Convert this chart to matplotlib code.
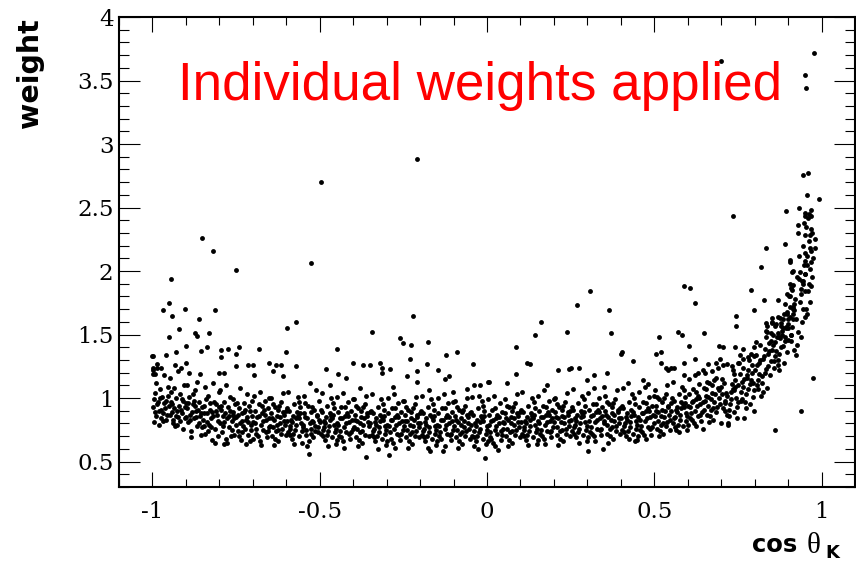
import numpy as np
import matplotlib
matplotlib.use('Agg')
import matplotlib.pyplot as plt
from matplotlib.ticker import MultipleLocator, FuncFormatter

# (cos theta_K, weight), slice by slice along cos theta_K
band_left = [
    # -1.00 .. -0.95
    (-.997,.93),(-.992,1.04),(-.988,.86),(-.996,.81),(-.983,.97),(-.979,.90),(-.990,1.12),(-.975,.84),(-.971,1.01),(-.985,.95),
    (-.968,.88),(-.994,.99),(-.962,.92),(-.976,1.07),(-.959,.83),(-.981,.79),(-.966,.96),(-.954,1.02),(-.973,.91),(-.957,.87),
    (-.999,1.22),(-.986,1.27),(-.964,1.18),(-.952,.94),(-.978,1.00),(-.969,.82),(-.991,.89),(-.955,1.09),(-.998,1.33),(-.961,.98),
    # -0.95 .. -0.90
    (-.949,.87),(-.946,.97),(-.940,.80),(-.944,1.05),(-.937,.92),(-.933,.78),(-.929,1.00),(-.942,.89),(-.925,.85),(-.921,.94),
    (-.935,1.08),(-.917,.82),(-.913,.99),(-.927,.90),(-.909,.76),(-.904,.93),(-.931,.86),(-.919,1.03),(-.911,.88),(-.901,.96),
    (-.947,1.16),(-.938,.83),(-.923,1.21),(-.915,.91),(-.906,1.10),(-.943,.95),(-.928,.79),(-.902,.84),(-.934,1.26),(-.908,.98),
    # -0.90 .. -0.85
    (-.898,.92),(-.895,.81),(-.891,1.01),(-.887,.87),(-.884,.74),(-.880,.95),(-.877,.84),(-.873,1.06),(-.869,.90),(-.866,.78),
    (-.862,.97),(-.858,.86),(-.855,.71),(-.852,.93),(-.896,1.10),(-.889,.83),(-.882,.89),(-.875,.98),(-.868,1.13),(-.861,.80),
    (-.854,.88),(-.893,.96),(-.885,.69),(-.878,1.03),(-.871,.85),(-.864,.91),(-.857,1.19),(-.851,.77),(-.899,.85),(-.872,.94),
    # -0.85 .. -0.80
    (-.849,.83),(-.845,.94),(-.842,.72),(-.838,.88),(-.834,1.02),(-.831,.79),(-.827,.91),(-.823,.67),(-.820,.86),(-.816,.97),
    (-.812,.76),(-.809,.90),(-.805,.82),(-.802,1.05),(-.847,.88),(-.840,.99),(-.833,.74),(-.826,.84),(-.819,1.12),(-.811,.95),
    (-.804,.70),(-.846,.78),(-.836,.81),(-.829,.96),(-.821,.89),(-.814,.65),(-.807,.87),(-.843,1.09),(-.824,.77),(-.801,.93),
    # -0.80 .. -0.75
    (-.799,.80),(-.796,.91),(-.792,.73),(-.788,.86),(-.785,.97),(-.781,.68),(-.778,.84),(-.774,.93),(-.770,.77),(-.767,1.01),
    (-.763,.82),(-.759,.89),(-.756,.71),(-.752,.95),(-.797,1.06),(-.790,.78),(-.783,.88),(-.776,.65),(-.769,.90),(-.762,.75),
    (-.755,.84),(-.794,.94),(-.786,.81),(-.779,1.10),(-.772,.86),(-.765,.70),(-.758,.99),(-.751,.79),(-.787,.64),(-.760,.87),
    # -0.75 .. -0.70
    (-.749,.85),(-.745,.74),(-.742,.92),(-.738,.80),(-.735,.67),(-.731,.88),(-.727,.96),(-.724,.76),(-.720,.83),(-.716,1.03),
    (-.713,.71),(-.709,.90),(-.706,.79),(-.702,.86),(-.747,.96),(-.740,.70),(-.733,.82),(-.726,.89),(-.719,.64),(-.712,.94),
    (-.705,.75),(-.744,.87),(-.737,1.08),(-.729,.78),(-.722,.91),(-.715,.81),(-.708,.66),(-.701,.98),(-.732,.73),(-.718,.85),
    # -0.70 .. -0.65
    (-.698,.81),(-.694,.90),(-.691,.72),(-.687,.85),(-.683,.95),(-.680,.66),(-.676,.79),(-.672,.88),(-.669,.75),(-.665,.98),
    (-.661,.83),(-.658,.69),(-.654,.92),(-.651,.77),(-.696,1.02),(-.689,.76),(-.682,.86),(-.675,.63),(-.668,.91),(-.660,.73),
    (-.653,.84),(-.693,.80),(-.685,.70),(-.678,1.05),(-.671,.82),(-.663,.87),(-.656,.74),(-.699,.68),(-.674,.94),(-.652,1.00),
    # -0.65 .. -0.60
    (-.649,.78),(-.646,.88),(-.642,.70),(-.638,.83),(-.635,.93),(-.631,.74),(-.627,.86),(-.624,.66),(-.620,.80),(-.616,.97),
    (-.613,.76),(-.609,.89),(-.606,.82),(-.602,.71),(-.647,1.00),(-.640,.77),(-.633,.68),(-.626,.91),(-.619,.85),(-.611,1.04),
    (-.604,.79),(-.644,.84),(-.637,.63),(-.629,.79),(-.622,.94),(-.615,.72),(-.608,.87),(-.641,.95),(-.625,.75),(-.601,.90),
    # -0.60 .. -0.55
    (-.599,.82),(-.595,.73),(-.592,.90),(-.588,.78),(-.584,.68),(-.581,.86),(-.577,.95),(-.574,.75),(-.570,.84),(-.566,1.01),
    (-.563,.70),(-.559,.88),(-.556,.80),(-.552,.65),(-.597,.92),(-.590,.76),(-.583,.81),(-.576,.64),(-.569,.89),(-.561,.97),
    (-.554,.74),(-.594,1.05),(-.586,.83),(-.579,.72),(-.572,.79),(-.565,.86),(-.558,.93),(-.551,.77),(-.589,.71),(-.562,.84),
    # -0.55 .. -0.50
    (-.549,.79),(-.546,.88),(-.542,.71),(-.538,.84),(-.535,.94),(-.531,.56),(-.527,.76),(-.524,.82),(-.520,.69),(-.516,.91),
    (-.513,.78),(-.509,.86),(-.506,.73),(-.502,.98),(-.547,1.02),(-.540,.75),(-.533,.66),(-.526,.89),(-.519,.81),(-.511,1.06),
    (-.504,.77),(-.544,.85),(-.537,.62),(-.529,.80),(-.522,.93),(-.515,.74),(-.508,.87),(-.543,.96),(-.525,.72),(-.501,.83),
]

band_mid = [
    # -0.50 .. -0.45
    (-.499,.81),(-.495,.72),(-.492,.89),(-.488,.77),(-.484,.67),(-.481,.85),(-.477,.94),(-.474,.74),(-.470,.83),(-.466,1.00),
    (-.463,.69),(-.459,.87),(-.456,.79),(-.452,.64),(-.497,.91),(-.490,.75),(-.483,.80),(-.476,.62),(-.469,.88),(-.461,.96),
    (-.454,.73),(-.494,1.04),(-.486,.82),(-.479,.71),(-.472,.78),(-.465,.86),(-.458,.92),(-.451,.76),(-.489,.70),(-.462,.84),
    # -0.45 .. -0.40
    (-.449,.80),(-.445,.89),(-.442,.70),(-.438,.84),(-.435,.93),(-.431,.66),(-.427,.77),(-.424,.86),(-.420,.73),(-.416,.97),
    (-.413,.81),(-.409,.68),(-.406,.90),(-.402,.76),(-.447,1.01),(-.440,.74),(-.433,.84),(-.426,.61),(-.419,.88),(-.412,.72),
    (-.405,.83),(-.444,.79),(-.437,.69),(-.429,1.04),(-.422,.80),(-.415,.86),(-.408,.73),(-.448,.67),(-.425,.93),(-.401,.99),
    # -0.40 .. -0.35
    (-.399,.77),(-.396,.87),(-.392,.69),(-.388,.82),(-.385,.92),(-.381,.73),(-.377,.85),(-.374,.65),(-.370,.79),(-.366,.95),
    (-.363,.54),(-.359,.88),(-.356,.81),(-.352,.70),(-.397,.99),(-.390,.76),(-.383,.67),(-.376,.90),(-.369,.84),(-.361,1.02),
    (-.354,.78),(-.394,.83),(-.387,.62),(-.379,.80),(-.372,.93),(-.365,.71),(-.358,.86),(-.391,.94),(-.375,.74),(-.351,.89),
    # -0.35 .. -0.30
    (-.349,.80),(-.345,.71),(-.342,.88),(-.338,.76),(-.334,.66),(-.331,.84),(-.327,.93),(-.324,.73),(-.320,.82),(-.316,.99),
    (-.313,.68),(-.309,.86),(-.306,.78),(-.302,.63),(-.347,.90),(-.340,.74),(-.333,.79),(-.326,.60),(-.319,.87),(-.311,.95),
    (-.304,.72),(-.344,1.03),(-.336,.81),(-.329,.70),(-.322,.77),(-.315,.85),(-.308,.91),(-.301,.75),(-.339,.69),(-.312,.83),
    # -0.30 .. -0.25
    (-.299,.79),(-.295,.88),(-.292,.55),(-.288,.83),(-.285,.92),(-.281,.65),(-.277,.76),(-.274,.85),(-.270,.72),(-.266,.96),
    (-.263,.80),(-.259,.67),(-.256,.89),(-.252,.75),(-.297,1.00),(-.290,.73),(-.283,.83),(-.276,.61),(-.269,.87),(-.262,.71),
    (-.255,.82),(-.294,.78),(-.287,.68),(-.279,1.03),(-.272,.79),(-.265,.85),(-.258,.72),(-.298,.66),(-.275,.92),(-.251,.98),
    # -0.25 .. -0.20
    (-.249,.78),(-.246,.87),(-.242,.69),(-.238,.82),(-.235,.91),(-.231,.72),(-.227,.84),(-.224,.64),(-.220,.78),(-.216,.95),
    (-.213,.74),(-.209,.87),(-.206,.80),(-.202,.69),(-.247,.98),(-.240,.75),(-.233,.66),(-.226,.89),(-.219,.83),(-.211,1.01),
    (-.204,.77),(-.244,.82),(-.237,.61),(-.229,.79),(-.222,.92),(-.215,.70),(-.208,.85),(-.241,.93),(-.225,.73),(-.201,.88),
    # -0.20 .. -0.15
    (-.199,.80),(-.195,.71),(-.192,.88),(-.188,.76),(-.184,.66),(-.181,.84),(-.177,.93),(-.174,.73),(-.170,.58),(-.166,.99),
    (-.163,.68),(-.159,.86),(-.156,.78),(-.152,.63),(-.197,.90),(-.190,.74),(-.183,.79),(-.176,.61),(-.169,.87),(-.161,.95),
    (-.154,.72),(-.194,1.02),(-.186,.81),(-.179,.70),(-.172,.77),(-.165,.85),(-.158,.91),(-.151,.75),(-.189,.69),(-.162,.83),
    # -0.15 .. -0.10
    (-.149,.79),(-.145,.88),(-.142,.70),(-.138,.83),(-.134,.92),(-.131,.58),(-.127,.76),(-.124,.85),(-.120,.72),(-.116,.96),
    (-.113,.80),(-.109,.67),(-.106,.89),(-.102,.75),(-.147,1.00),(-.140,.73),(-.133,.83),(-.126,.62),(-.119,.87),(-.112,.71),
    (-.105,.82),(-.144,.78),(-.137,.68),(-.129,1.03),(-.122,.79),(-.115,.85),(-.108,.72),(-.148,.66),(-.125,.92),(-.101,.97),
    # -0.10 .. -0.05
    (-.099,.78),(-.096,.86),(-.092,.69),(-.088,.81),(-.085,.91),(-.081,.72),(-.077,.84),(-.074,.64),(-.070,.77),(-.066,.94),
    (-.063,.74),(-.059,.87),(-.056,.80),(-.052,.68),(-.097,.98),(-.090,.75),(-.083,.66),(-.076,.89),(-.069,.82),(-.061,1.00),
    (-.054,.76),(-.094,.83),(-.087,.61),(-.079,.79),(-.072,.91),(-.065,.70),(-.058,.85),(-.091,.93),(-.075,.73),(-.051,.88),
    # -0.05 .. 0.00
    (-.049,.79),(-.045,.70),(-.042,.87),(-.038,.62),(-.034,.66),(-.031,.83),(-.027,.92),(-.024,.73),(-.020,.81),(-.016,.98),
    (-.013,.68),(-.009,.86),(-.006,.53),(-.002,.64),(-.047,.89),(-.040,.74),(-.033,.78),(-.026,.60),(-.019,.86),(-.011,.94),
    (-.004,.72),(-.044,1.01),(-.036,.80),(-.029,.70),(-.022,.76),(-.015,.84),(-.008,.90),(-.001,.75),(-.039,.69),(-.012,.82),
]

band_midright = [
    # 0.00 .. 0.05
    (.001,.78),(.005,.87),(.008,.69),(.012,.82),(.016,.91),(.019,.65),(.023,.75),(.026,.84),(.030,.72),(.034,.59),
    (.037,.80),(.041,.67),(.044,.89),(.048,.76),(.003,.99),(.010,.73),(.017,.83),(.024,.62),(.031,.87),(.038,.96),
    (.046,.71),(.006,.79),(.013,.68),(.021,1.02),(.028,.78),(.035,.85),(.042,.74),(.002,.66),(.025,.92),(.049,.81),
    # 0.05 .. 0.10
    (.051,.80),(.054,.88),(.058,.70),(.062,.83),(.065,.93),(.069,.73),(.073,.85),(.076,.65),(.080,.79),(.084,.96),
    (.087,.75),(.091,.88),(.094,.81),(.098,.69),(.053,.99),(.060,.76),(.067,.67),(.074,.90),(.081,.84),(.089,1.03),
    (.096,.77),(.056,.84),(.063,.62),(.071,.80),(.078,.93),(.085,.71),(.092,.86),(.059,.94),(.075,.74),(.099,.89),
    # 0.10 .. 0.15
    (.101,.81),(.105,.72),(.108,.89),(.112,.77),(.116,.67),(.119,.85),(.123,.94),(.126,.74),(.130,.83),(.134,1.00),
    (.137,.69),(.141,.87),(.144,.79),(.148,.64),(.103,.91),(.110,.75),(.117,.80),(.124,.63),(.131,.88),(.139,.97),
    (.146,.73),(.106,1.05),(.114,.82),(.121,.71),(.128,.78),(.135,.86),(.142,.92),(.149,.76),(.111,.70),(.138,.84),
    # 0.15 .. 0.20
    (.151,.82),(.155,.90),(.158,.72),(.162,.85),(.166,.94),(.169,.68),(.173,.79),(.176,.87),(.180,.74),(.184,.98),
    (.187,.82),(.191,.69),(.194,.91),(.198,.77),(.153,1.02),(.160,.75),(.167,.85),(.174,.64),(.181,.89),(.188,.73),
    (.195,.84),(.156,.80),(.163,.70),(.171,1.06),(.178,.81),(.185,.87),(.192,.74),(.152,.67),(.175,.93),(.199,.99),
    # 0.20 .. 0.25
    (.201,.81),(.204,.89),(.208,.71),(.212,.84),(.215,.93),(.219,.74),(.223,.86),(.226,.66),(.230,.80),(.234,.97),
    (.237,.76),(.241,.89),(.244,.82),(.248,.70),(.203,1.00),(.210,.77),(.217,.68),(.224,.91),(.231,.85),(.239,1.04),
    (.246,.78),(.206,.85),(.213,.63),(.221,.81),(.228,.94),(.235,.72),(.242,.87),(.209,.95),(.225,.75),(.249,.90),
    # 0.25 .. 0.30
    (.251,.83),(.255,.74),(.258,.91),(.262,.79),(.266,.69),(.269,.87),(.273,.96),(.276,.76),(.280,.85),(.284,1.02),
    (.287,.71),(.291,.89),(.294,.81),(.298,.66),(.253,.93),(.260,.77),(.267,.82),(.274,.65),(.281,.90),(.289,.99),
    (.296,.75),(.256,1.07),(.264,.84),(.271,.73),(.278,.80),(.285,.88),(.292,.94),(.299,.78),(.261,.72),(.288,.86),
    # 0.30 .. 0.35
    (.301,.58),(.305,.91),(.308,.73),(.312,.86),(.316,.95),(.319,.70),(.323,.81),(.326,.89),(.330,.76),(.334,1.00),
    (.337,.84),(.341,.71),(.344,.93),(.348,.60),(.303,1.04),(.310,.77),(.317,.87),(.324,.66),(.331,.91),(.338,.75),
    (.345,.86),(.306,.82),(.313,.72),(.321,1.08),(.328,.83),(.335,.89),(.342,.76),(.302,.69),(.325,.95),(.349,.80),
    # 0.35 .. 0.40
    (.351,.82),(.354,.90),(.358,.72),(.362,.85),(.365,.95),(.369,.76),(.373,.88),(.376,.68),(.380,.82),(.384,.99),
    (.387,.78),(.391,.91),(.394,.84),(.398,.72),(.353,1.02),(.360,.79),(.367,.70),(.374,.93),(.381,.87),(.389,1.06),
    (.396,.80),(.356,.87),(.363,.65),(.371,.83),(.378,.96),(.385,.74),(.392,.89),(.359,.97),(.375,.77),(.399,.92),
    # 0.40 .. 0.45
    (.401,.84),(.405,.75),(.408,.92),(.412,.80),(.416,.70),(.419,.88),(.423,.97),(.426,.77),(.430,.86),(.434,1.03),
    (.437,.72),(.441,.66),(.444,.82),(.448,.67),(.403,.94),(.410,.78),(.417,.83),(.424,.68),(.431,.91),(.439,1.00),
    (.446,.76),(.406,1.08),(.414,.85),(.421,.74),(.428,.81),(.435,.89),(.442,.95),(.449,.79),(.411,.73),(.438,.87),
    # 0.45 .. 0.50
    (.451,.85),(.455,.93),(.458,.75),(.462,.88),(.466,.97),(.469,.71),(.473,.82),(.476,.90),(.480,.77),(.484,1.01),
    (.487,.85),(.491,.71),(.494,.94),(.498,.80),(.453,1.05),(.460,.78),(.467,.88),(.474,.68),(.481,.92),(.488,.76),
    (.495,.87),(.456,.83),(.463,.73),(.471,1.09),(.478,.84),(.485,.90),(.492,.77),(.452,.70),(.475,.96),(.499,1.02),
]

band_right = [
    # 0.50 .. 0.55
    (.501,.86),(.504,.94),(.508,.76),(.512,.89),(.515,.99),(.519,.79),(.523,.91),(.526,.72),(.530,.85),(.534,1.03),
    (.537,.81),(.541,.94),(.544,.87),(.548,.75),(.503,1.06),(.510,.82),(.517,.74),(.524,.97),(.531,.90),(.539,1.10),
    (.546,.83),(.506,.90),(.513,.70),(.521,.86),(.528,1.00),(.535,.78),(.542,.93),(.509,1.01),(.525,.80),(.549,.96),
    # 0.55 .. 0.60
    (.551,.90),(.555,.80),(.558,.98),(.562,.85),(.566,.75),(.569,.93),(.573,1.03),(.576,.83),(.580,.92),(.584,1.09),
    (.587,.78),(.591,.96),(.594,.88),(.597,.75),(.553,1.00),(.560,.84),(.567,.89),(.574,.73),(.581,.97),(.589,1.06),
    (.596,.82),(.556,1.13),(.564,.91),(.571,.79),(.578,.87),(.585,.95),(.592,1.01),(.599,.86),(.561,.77),(.588,.93),
    # 0.60 .. 0.65
    (.601,.94),(.605,1.03),(.608,.84),(.612,.97),(.616,1.07),(.619,.80),(.623,.90),(.626,.99),(.630,.86),(.634,1.11),
    (.637,.95),(.641,.82),(.645,.76),(.648,.91),(.603,1.15),(.610,.88),(.617,.98),(.624,.78),(.631,1.02),(.638,.87),
    (.646,.97),(.606,.93),(.613,.83),(.621,1.18),(.628,.94),(.635,1.00),(.642,.89),(.602,.79),(.625,1.05),(.649,1.08),
    # 0.65 .. 0.70
    (.651,.98),(.654,1.07),(.658,.87),(.662,1.01),(.665,1.12),(.669,.91),(.673,1.04),(.676,.83),(.680,.97),(.684,1.16),
    (.687,.93),(.691,1.08),(.694,1.00),(.698,.80),(.653,1.20),(.660,.94),(.667,.86),(.674,1.10),(.681,1.03),(.689,1.24),
    (.696,.95),(.656,1.02),(.663,.81),(.671,.99),(.678,1.14),(.685,.89),(.692,1.06),(.659,1.13),(.675,.92),(.699,1.09),
    # 0.70 .. 0.75
    (.701,1.03),(.705,.92),(.708,1.12),(.712,.98),(.716,.87),(.719,.80),(.721,.79),(.726,.95),(.730,1.05),(.734,1.22),
    (.737,.89),(.741,1.09),(.744,1.00),(.748,.84),(.703,1.15),(.710,.96),(.717,1.02),(.724,.86),(.731,1.11),(.739,1.19),
    (.746,.93),(.706,1.26),(.714,1.04),(.723,.91),(.728,.99),(.735,1.07),(.742,1.14),(.749,.97),(.711,.90),(.738,1.06),
    # 0.75 .. 0.80
    (.751,1.10),(.755,1.19),(.758,.98),(.762,1.13),(.766,1.24),(.769,.84),(.773,1.03),(.776,1.16),(.780,1.07),(.784,1.30),
    (.787,.95),(.791,1.20),(.794,1.12),(.798,.90),(.753,1.28),(.760,1.05),(.767,1.15),(.774,.92),(.781,1.22),(.789,1.35),
    (.796,1.01),(.756,1.34),(.764,1.09),(.771,.97),(.778,1.18),(.785,1.11),(.792,1.26),(.799,1.06),(.761,.99),(.788,1.14),
]

band_edge = [
    # 0.80 .. 0.85
    (.801,1.22),(.804,1.34),(.808,1.10),(.812,1.28),(.815,1.42),(.819,1.02),(.823,1.17),(.826,1.31),(.830,1.20),(.834,1.48),
    (.837,1.08),(.841,1.25),(.844,1.37),(.848,1.45),(.803,1.44),(.810,1.14),(.817,1.30),(.824,1.05),(.831,1.39),(.838,1.52),
    (.846,1.18),(.806,1.26),(.813,1.19),(.821,1.12),(.828,1.33),(.835,1.23),(.842,1.43),(.849,1.29),(.811,1.07),(.839,1.35),
    # 0.85 .. 0.90
    (.851,1.38),(.855,1.50),(.858,1.24),(.862,1.44),(.865,1.58),(.869,1.30),(.873,1.35),(.876,1.47),(.880,1.40),(.884,1.62),
    (.887,1.28),(.891,1.45),(.894,1.55),(.898,1.68),(.853,1.60),(.860,1.33),(.867,1.48),(.874,1.22),(.881,1.53),(.889,1.66),
    (.896,1.36),(.856,1.42),(.863,1.37),(.871,1.26),(.878,1.57),(.885,1.41),(.892,1.74),(.899,1.46),(.857,1.29),(.883,1.50),
    # 0.90 .. 0.95
    (.901,1.58),(.905,1.72),(.908,1.45),(.912,1.85),(.916,1.66),(.919,1.38),(.923,1.62),(.926,1.95),(.930,1.52),(.934,2.12),
    (.937,1.76),(.940,1.48),(.944,1.92),(.948,2.05),(.903,1.80),(.910,1.50),(.917,1.74),(.924,1.34),(.931,2.30),(.939,1.82),
    (.946,2.20),(.906,1.64),(.913,1.56),(.921,1.78),(.928,1.42),(.935,1.99),(.942,1.60),(.949,2.38),(.914,1.70),(.938,1.86),
    # 0.95 .. 0.975
    (.951,1.98),(.954,2.35),(.957,2.12),(.960,1.84),(.962,2.24),(.965,1.76),(.967,2.16),(.970,1.95),(.972,2.30),(.953,1.70),
    (.956,2.05),(.959,2.42),(.963,1.90),(.966,2.02),(.969,2.48),(.974,2.10),
]

# scattered points above the dense band
upper_left = [
    (-.95,1.75),(-.967,1.69),(-.943,1.65),(-.904,1.70),(-.812,1.69),(-.86,1.62),(-.95,1.48),(-.92,1.54),(-.872,1.51),(-.866,1.49),
    (-.83,1.51),(-.90,1.41),(-.855,1.37),(-.836,1.40),(-1.0,1.33),(-.96,1.34),(-.93,1.36),(-.794,1.38),(-.794,1.32),(-.775,1.39),
    (-.74,1.40),(-.75,1.35),(-.683,1.39),(-.602,1.36),(-.597,1.55),(-.57,1.60),(-.998,1.24),(-.986,1.24),(-.975,1.24),(-.999,1.19),
    (-.992,1.19),(-.916,1.24),(-.90,1.28),(-.89,1.20),(-.75,1.25),(-.713,1.26),(-.698,1.26),(-.695,1.18),(-.802,1.20),(-.785,1.20),
    (-.653,1.28),(-.632,1.26),(-.616,1.26),(-.61,1.17),(-.64,1.21),(-.57,1.25),(-.946,1.94),(-.853,2.26),(-.818,2.16),(-.75,2.01),
    (-.525,2.06),(-.495,2.70),
]

upper_mid = [
    (-.447,1.39),(-.345,1.52),(-.26,1.47),(-.25,1.43),(-.226,1.42),(-.175,1.44),(-.09,1.36),(-.124,1.34),(-.23,1.31),(-.40,1.28),
    (-.37,1.26),(-.35,1.26),(-.32,1.28),(-.48,1.23),(-.145,1.22),(-.18,1.27),(-.21,1.21),(-.043,1.27),(.004,1.13),(-.444,1.19),
    (-.42,1.16),(-.315,1.24),(-.315,1.20),(-.29,1.23),(-.238,1.17),(-.127,1.15),(-.115,1.17),(-.21,1.13),(-.172,1.06),(-.103,1.05),
    (.007,1.13),(-.04,1.10),(-.02,1.10),(-.025,1.02),(-.22,1.65),(-.208,2.88),(-.53,1.12),(-.47,1.10),(-.38,1.08),(-.28,1.09),
    (-.06,1.07),
]

upper_midright = [
    (.088,1.40),(.16,1.60),(.142,1.50),(.238,1.52),(.268,1.73),(.309,1.84),(.366,1.69),(.37,1.51),(.40,1.35),(.405,1.36),
    (.435,1.29),(.12,1.28),(.128,1.27),(.088,1.19),(.274,1.24),(.25,1.24),(.213,1.22),(.36,1.20),(.32,1.18),(.465,1.14),
    (.30,1.14),(.244,1.23),(.06,1.12),(.18,1.10),(.42,1.12),(.35,1.09),(.48,1.11),
]

upper_right = [
    (.513,1.48),(.504,1.35),(.52,1.36),(.52,1.28),(.535,1.24),(.55,1.24),(.572,1.52),(.584,1.50),(.65,1.51),(.605,1.41),
    (.692,1.41),(.704,1.40),(.74,1.40),(.764,1.39),(.797,1.40),(.623,1.31),(.59,1.28),(.66,1.27),(.686,1.28),(.695,1.31),
    (.716,1.27),(.731,1.25),(.749,1.28),(.764,1.31),(.779,1.32),(.797,1.33),(.56,1.24),(.54,1.22),(.63,1.20),(.645,1.22),
    (.674,1.21),(.59,1.18),(.59,1.88),(.608,1.87),(.623,1.75),(.743,1.65),(.743,1.57),(.79,1.85),(.797,1.69),(.818,2.03),
    (.827,1.77),(.833,2.18),(.869,1.77),(.734,2.43),(.862,.75),
]

rise_top = [
    (.976,3.72),(.952,3.54),(.955,3.44),(.698,3.65),(.946,2.76),(.961,2.77),(.958,2.60),(.991,2.57),(.895,2.47),(.934,2.50),
    (.95,2.46),(.963,2.45),(.952,2.43),(.967,2.43),(.931,2.36),(.967,2.33),(.952,2.28),(.964,2.28),(.979,2.25),(.892,2.21),
    (.964,2.18),(.979,2.18),(.952,2.14),(.907,2.09),(.907,2.07),(.952,2.08),(.967,2.07),(.916,2.00),(.913,1.99),(.952,1.98),
    (.934,1.94),(.943,1.92),(.907,1.90),(.916,1.89),(.91,1.87),(.946,1.90),(.967,1.88),(.952,1.84),(.898,1.82),(.907,1.80),
    (.916,1.72),(.919,1.69),(.946,1.70),(.952,1.64),(.958,1.66),(.898,1.66),(.901,1.62),(.916,1.62),(.853,1.63),(.869,1.64),
    (.877,1.63),(.835,1.59),(.838,1.57),(.853,1.59),(.862,1.57),(.88,1.59),(.885,1.55),(.895,1.56),(.90,1.55),(.835,1.53),
    (.85,1.51),(.869,1.51),(.874,1.48),(.892,1.48),(.91,1.50),(.973,1.16),(.940,.90),
]

x_ticks = [-1, -0.5, 0, 0.5, 1]
y_ticks = [0.5, 1, 1.5, 2, 2.5, 3, 3.5, 4]

pts = band_left + band_mid + band_midright + band_right + band_edge \
    + upper_left + upper_mid + upper_midright + upper_right + rise_top
cos_k = np.array([p[0] for p in pts])
weight = np.array([p[1] for p in pts])

fig = plt.figure(figsize=(8.56, 5.64), dpi=100)
ax = fig.add_axes([119/856, 77/564, 736/856, 470/564])

ax.plot(cos_k, weight, 'o', ms=3.5, mew=0, color='black')

ax.set_xlim(-1.1, 1.1)
ax.set_ylim(0.3, 4.0)
ax.set_xticks(x_ticks)
ax.set_yticks(y_ticks)
ax.xaxis.set_minor_locator(MultipleLocator(0.1))
ax.yaxis.set_minor_locator(MultipleLocator(0.1))
fmt = FuncFormatter(lambda v, p: '%g' % v)
ax.xaxis.set_major_formatter(fmt)
ax.yaxis.set_major_formatter(fmt)

# ROOT style: ticks inside on all four sides
ax.tick_params(axis='both', which='both', direction='in', top=True, right=True,
               width=0.8, color='black')
ax.tick_params(axis='x', which='major', length=11, pad=10)
ax.tick_params(axis='x', which='minor', length=5.5)
ax.tick_params(axis='y', which='major', length=15, pad=4)
ax.tick_params(axis='y', which='minor', length=7.5)
for lab in ax.get_xticklabels() + ax.get_yticklabels():
    lab.set_fontfamily('DejaVu Serif')
    lab.set_fontsize(16.5)
for s in ax.spines.values():
    s.set_linewidth(1.5)

ax.text(0.080, 0.823, 'Individual weights applied', transform=ax.transAxes,
        color='#ff0000', fontsize=38.2, fontfamily='Liberation Sans', va='baseline', ha='left')

# axis titles
fig.text(30/856, 1 - 18/564, 'weight', rotation=90, ha='center', va='top',
         fontsize=20.5, fontweight='bold', fontfamily='DejaVu Sans')
fig.text(752/856, 1 - 552/564, 'cos', ha='left', va='baseline',
         fontsize=17.5, fontweight='bold', fontfamily='DejaVu Sans')
fig.text(807/856, 1 - 553/564, 'θ', ha='left', va='baseline',
         fontsize=21, fontfamily='Liberation Serif')
fig.text(825/856, 1 - 558/564, 'K', ha='left', va='baseline',
         fontsize=13, fontweight='bold', fontfamily='DejaVu Sans')

fig.savefig('out.png', dpi=100)
